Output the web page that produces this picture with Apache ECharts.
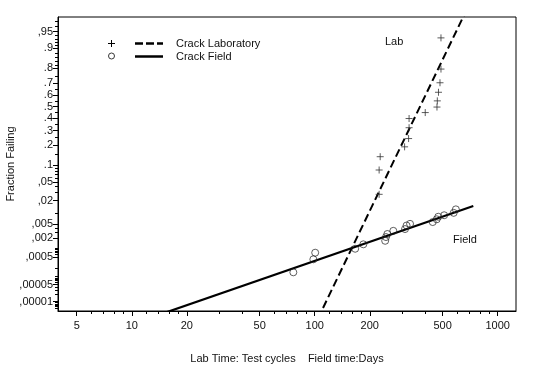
<!DOCTYPE html>
<html><head><meta charset="utf-8">
<script src="https://cdn.jsdelivr.net/npm/echarts@6/dist/echarts.min.js"></script>
<style>html,body{margin:0;padding:0;background:#fff}#c{width:541px;height:369px}</style>
</head><body><div id="c"></div>
<script>
// ---- data (raw units: time, fraction failing) ----
const labTime   = [490, 490, 484, 475, 468, 466, 402, 328, 328, 326, 310, 228, 225, 225];
const labFrac   = [0.934, 0.795, 0.700, 0.624, 0.551, 0.497, 0.449, 0.398, 0.323, 0.243, 0.190, 0.137, 0.083, 0.0276];
const fieldTime = [76.4, 98.3, 100.6, 166.4, 184.4, 242.8, 245.3, 249.5, 269, 311.6, 317.8, 332, 441.6, 464.5, 473.6, 510, 575, 591];
const fieldFrac = [0.000145, 0.00042, 0.00070, 0.00094, 0.00130, 0.00167, 0.00217, 0.00267, 0.00330, 0.00371, 0.00466, 0.00519, 0.00580, 0.00687, 0.00802, 0.00877, 0.0101, 0.01235];
// fitted lognormal lines: [median, sigma(log10)], and the time span drawn
const labFit    = [376, 0.1203];
const labSpan   = [80, 900];
const fieldFit  = [27200, 0.7215];
const fieldSpan = [10, 736];
// axes
const xRange = [3.95, 1260];
const yRange = [0.0000039, 0.9752];
const xTicks = [5, 10, 20, 50, 100, 200, 500, 1000];
const xMinor = [6, 7, 8, 9, 12, 14, 16, 18, 30, 40, 60, 70, 80, 90, 120, 140, 160, 180, 300, 400, 600, 700, 800, 900];
const yTicks = [0.95, 0.9, 0.8, 0.7, 0.6, 0.5, 0.4, 0.3, 0.2, 0.1, 0.05, 0.02, 0.005, 0.002, 0.0005, 0.00005, 0.00001];
const yTickLabels = [',95', '.9', '.8', '.7', '.6', '.5', '.4', '.3', '.2', '.1', ',05', ',02', ',005', ',002', ',0005', ',00005', ',00001'];
const yMinor = [0.97, 0.96, 0.94, 0.93, 0.92, 0.91, 0.88, 0.86, 0.84, 0.82, 0.75, 0.65, 0.55, 0.45, 0.35, 0.25, 0.15,
  0.09, 0.08, 0.07, 0.06, 0.04, 0.03, 0.01, 0.004, 0.003, 0.001, 0.0009, 0.0008, 0.0007, 0.0006,
  0.0002, 0.0001, 0.00009, 0.00008, 0.00007, 0.00006, 0.00004, 0.00003, 0.00002, 0.000009, 0.000008, 0.000007, 0.000006, 0.000005];

// ---- transforms ----
function probit(p){
  const a=[-3.969683028665376e+01,2.209460984245205e+02,-2.759285104469687e+02,1.383577518672690e+02,-3.066479806614716e+01,2.506628277459239e+00];
  const b=[-5.447609879822406e+01,1.615858368580409e+02,-1.556989798598866e+02,6.680131188771972e+01,-1.328068155288572e+01];
  const c=[-7.784894002430293e-03,-3.223964580411365e-01,-2.400758277161838e+00,-2.549671010173721e+00,4.374664141464968e+00,2.938163982698783e+00];
  const d=[7.784695709041462e-03,3.224671290700398e-01,2.445134137142996e+00,3.754408661907416e+00];
  const pl=0.02425;
  if(p<pl){const q=Math.sqrt(-2*Math.log(p));return (((((c[0]*q+c[1])*q+c[2])*q+c[3])*q+c[4])*q+c[5])/((((d[0]*q+d[1])*q+d[2])*q+d[3])*q+1);}
  if(p<=1-pl){const q=p-0.5,r=q*q;return (((((a[0]*r+a[1])*r+a[2])*r+a[3])*r+a[4])*r+a[5])*q/(((((b[0]*r+b[1])*r+b[2])*r+b[3])*r+b[4])*r+1);}
  const q=Math.sqrt(-2*Math.log(1-p));return -(((((c[0]*q+c[1])*q+c[2])*q+c[3])*q+c[4])*q+c[5])/((((d[0]*q+d[1])*q+d[2])*q+d[3])*q+1);
}
const lx = v => Math.log10(v);
const pts = (t, f) => t.map((v, i) => [lx(v), probit(f[i])]);
const fitLine = (fit, span) => span.map(t => [lx(t), (lx(t) - lx(fit[0])) / fit[1]]);

const yTickZ = yTicks.map(probit);
const yLabel = z => { let bi = 0, bd = 1e9; yTickZ.forEach((v, i) => { const d = Math.abs(v - z); if (d < bd) { bd = d; bi = i; } }); return yTickLabels[bi]; };

const FONT = 'Liberation Sans, Arial, Helvetica, sans-serif';
const TXT = '#111';
const xMin = lx(xRange[0]), xMax = lx(xRange[1]);
const yMin = probit(yRange[0]), yMax = probit(yRange[1]);
const plusPath = 'path://M5,0L5,10M0,5L10,5';

const chart = echarts.init(document.getElementById('c'), null, {renderer: 'canvas'});
chart.setOption({
  animation: false,
  backgroundColor: '#fff',
  grid: {left: 58, right: 25, top: 17, bottom: 58, show: true, borderColor: '#000', borderWidth: 1,
         backgroundColor: 'transparent', containLabel: false, outerBoundsMode: 'none'},
  xAxis: [{
    type: 'value', min: xMin, max: xMax, position: 'bottom',
    axisLine: {show: true, onZero: false, lineStyle: {color: '#000', width: 1}},
    splitLine: {show: false},
    axisTick: {show: true, length: 5, inside: false, lineStyle: {color: '#000'}, customValues: xTicks.map(lx)},
    axisLabel: {show: true, customValues: xTicks.map(lx), formatter: v => String(Math.round(Math.pow(10, v))), color: TXT, fontFamily: FONT, fontSize: 11, margin: 9},
    name: 'Lab Time: Test cycles    Field time:Days', nameLocation: 'middle', nameGap: 42,
    nameTextStyle: {color: TXT, fontFamily: FONT, fontSize: 11}
  }, {
    type: 'value', min: xMin, max: xMax, position: 'bottom', gridIndex: 0,
    axisLine: {show: false, onZero: false}, splitLine: {show: false}, axisLabel: {show: false},
    axisTick: {show: true, length: 3, lineStyle: {color: '#000'}, customValues: xMinor.map(lx)}
  }],
  yAxis: [{
    type: 'value', min: yMin, max: yMax, position: 'left',
    axisLine: {show: true, onZero: false, lineStyle: {color: '#000', width: 1}},
    splitLine: {show: false},
    axisTick: {show: true, length: 5, lineStyle: {color: '#000'}, customValues: yTickZ},
    axisLabel: {show: true, customValues: yTickZ, formatter: v => yLabel(v), color: TXT, fontFamily: FONT, fontSize: 11, margin: 5},
    name: 'Fraction Failing', nameLocation: 'middle', nameGap: 42, nameRotate: 90, nameMoveOverlap: false,
    nameTextStyle: {color: TXT, fontFamily: FONT, fontSize: 11}
  }, {
    type: 'value', min: yMin, max: yMax, position: 'left', gridIndex: 0,
    axisLine: {show: false, onZero: false}, splitLine: {show: false}, axisLabel: {show: false},
    axisTick: {show: true, length: 3, lineStyle: {color: '#000'}, customValues: yMinor.map(probit)}
  }],
  series: [
    {name: 'Crack Laboratory', type: 'line', data: fitLine(labFit, labSpan), showSymbol: false, symbol: 'none',
     lineStyle: {color: '#000', width: 2, type: [8, 4]}, clip: true, z: 3},
    {name: 'Crack Field', type: 'line', data: fitLine(fieldFit, fieldSpan), showSymbol: false, symbol: 'none',
     lineStyle: {color: '#000', width: 2.2}, clip: true, z: 3},
    {name: 'Lab points', type: 'scatter', data: pts(labTime, labFrac), symbol: plusPath, symbolSize: 7,
     itemStyle: {color: 'transparent', borderColor: '#333', borderWidth: 1}, z: 4},
    {name: 'Field points', type: 'scatter', data: pts(fieldTime, fieldFrac), symbol: 'circle', symbolSize: 7,
     itemStyle: {color: 'transparent', borderColor: '#222', borderWidth: 0.9}, z: 4}
  ],
  graphic: [
    {type: 'line', shape: {x1: 108, y1: 43.5, x2: 115, y2: 43.5}, style: {stroke: '#000', lineWidth: 1}},
    {type: 'line', shape: {x1: 111.5, y1: 40, x2: 111.5, y2: 47}, style: {stroke: '#000', lineWidth: 1}},
    {type: 'circle', shape: {cx: 111.5, cy: 56, r: 3}, style: {stroke: '#222', fill: 'transparent', lineWidth: 0.9}},
    {type: 'line', shape: {x1: 135, y1: 43.5, x2: 163, y2: 43.5}, style: {stroke: '#000', lineWidth: 2.5, lineDash: [8, 3]}},
    {type: 'line', shape: {x1: 135, y1: 56.5, x2: 163, y2: 56.5}, style: {stroke: '#000', lineWidth: 2.5}},
    {type: 'text', x: 176, y: 44, style: {text: 'Crack Laboratory', fill: TXT, font: '11px ' + FONT, textVerticalAlign: 'middle'}},
    {type: 'text', x: 176, y: 57, style: {text: 'Crack Field', fill: TXT, font: '11px ' + FONT, textVerticalAlign: 'middle'}},
    {type: 'text', x: 385, y: 42, style: {text: 'Lab', fill: TXT, font: '11px ' + FONT, textVerticalAlign: 'middle'}},
    {type: 'text', x: 453, y: 240, style: {text: 'Field', fill: TXT, font: '11px ' + FONT, textVerticalAlign: 'middle'}}
  ]
});
</script></body></html>
